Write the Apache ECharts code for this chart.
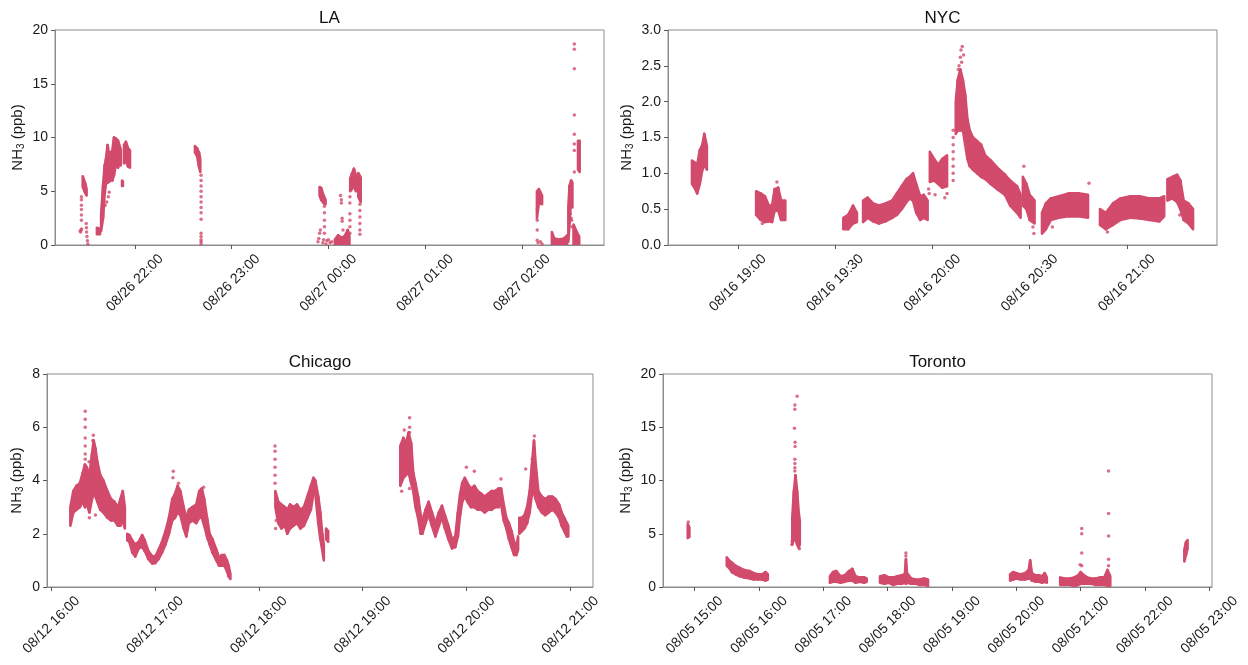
<!DOCTYPE html>
<html><head><meta charset="utf-8">
<script src="https://cdn.jsdelivr.net/npm/echarts@6/dist/echarts.min.js"></script>
<style>html,body{margin:0;padding:0;background:#fff}#c{width:1248px;height:665px}</style>
</head><body><div id="c"></div>
<script>
// ---------- DATA (time = minutes after midnight of the first date; value = NH3 ppb) ----------
// Runs: dense stretches of measurements, each entry [time, lowest value, highest value]
// Dots: individual readings [time, value]
const panelTitles = ['LA', 'NYC', 'Chicago', 'Toronto'];
const panelDates = [[8, 26], [8, 16], [8, 12], [8, 5]];

const laTicks = [1320, 1380, 1440, 1500, 1560];
const nycTicks = [1140, 1170, 1200, 1230, 1260];
const chiTicks = [960, 1020, 1080, 1140, 1200, 1260];
const torTicks = [900, 960, 1020, 1080, 1140, 1200, 1260, 1320, 1380];

const laRange = [1270.4, 1610.9];
const nycRange = [1118.4, 1287.8];
const chiRange = [957.5, 1273.1];
const torRange = [870.4, 1382.5];

const laRuns = [
  [[1287.6,5.4,6.4],[1289.0,4.9,5.8],[1290.0,4.6,5.2]],
  [[1296.4,1.0,1.6],[1298.3,1.0,1.5]],
  [[1299.0,1.3,2.8],[1300.2,2.5,5.5],[1301.2,4.8,7.4],[1302.0,5.7,8.0],[1303.0,5.8,9.3],[1304.0,5.9,8.4],[1305.0,6.0,8.6],[1306.0,6.0,8.8],[1307.0,6.5,10.0],[1308.2,7.5,9.9],[1309.5,7.2,9.7],[1310.5,7.8,9.2],[1311.2,7.4,8.9]],
  [[1312.0,5.5,6.0],[1312.5,5.5,5.9]],
  [[1313.2,7.6,9.3],[1314.4,7.8,9.6],[1315.7,7.3,9.0],[1316.9,7.2,8.8]],
  [[1357.2,8.6,9.2],[1358.5,8.3,9.0],[1359.7,7.3,8.6],[1360.5,6.8,8.0]],
  [[1434.5,4.6,5.4],[1435.5,4.2,5.3],[1437.0,3.9,4.6],[1438.2,3.8,4.2]],
  [[1444.0,0.0,0.5],[1446.0,0.0,0.9],[1448.0,0.0,0.7],[1450.0,0.0,0.8],[1452.0,0.0,1.4],[1453.0,0.0,0.8]],
  [[1453.5,5.0,6.2],[1454.5,5.2,6.6],[1455.8,5.5,7.1],[1457.0,5.0,6.5]],
  [[1458.5,4.5,6.7],[1460.0,4.0,6.3]],
  [[1569.3,2.5,5.0],[1570.5,3.9,5.2],[1572.5,3.8,4.6]],
  [[1578.6,0.0,1.2],[1580.0,0.0,0.6],[1583.0,0.0,0.5],[1586.0,0.0,0.6],[1588.0,0.0,0.9]],
  [[1588.8,0.3,3.5],[1589.5,2.0,5.5],[1590.5,4.3,6.0],[1591.3,3.5,5.8]],
  [[1592.0,0.0,1.9],[1594.0,0.0,1.2],[1595.5,0.0,0.8]],
  [[1594.8,7.0,9.7],[1595.8,6.8,9.7]]
];
const laDots = [
  [1286.0,1.3],[1286.3,1.2],[1286.6,1.4],[1286.9,1.5],[1286.8,2.3],[1286.8,2.8],[1286.8,3.3],[1286.8,3.7],[1286.8,4.2],[1286.8,4.5],
  [1289.8,2.0],[1289.9,1.6],[1290.0,1.2],[1290.2,0.8],[1290.5,0.4],[1290.8,0.1],
  [1301.5,3.7],[1302.5,4.0],[1303.5,4.5],[1304.0,4.9],
  [1361.0,6.5],[1361.0,6.0],[1361.0,5.5],[1361.0,5.0],[1361.0,4.5],[1361.0,4.0],[1361.0,3.5],[1361.0,3.0],[1361.0,2.4],[1361.0,1.1],[1361.0,0.8],[1361.0,0.5],[1361.0,0.3],[1361.0,0.1],
  [1437.5,3.6],[1437.5,3.0],[1437.5,2.3],[1437.5,1.7],[1437.5,1.1],
  [1433.5,0.3],[1434.0,0.6],[1434.5,1.1],[1435.0,1.4],[1436.5,0.2],[1437.0,0.5],[1438.5,0.1],[1439.0,0.4],[1440.0,0.5],[1441.0,0.2],[1442.0,0.3],
  [1447.5,4.6],[1448.0,4.2],[1448.0,3.9],[1448.5,2.5],[1448.5,2.2],[1449.0,1.4],
  [1453.3,4.5],[1453.3,3.9],[1453.3,2.9],[1453.3,2.3],[1453.3,1.7],[1453.3,1.1],
  [1459.5,3.8],[1459.5,3.2],[1459.5,2.6],[1459.5,2.0],[1459.5,1.4],[1459.5,1.0],
  [1569.5,3.3],[1569.5,2.3],[1569.5,1.4],[1569.5,0.45],[1570.0,0.2],[1571.5,0.3],[1572.5,0.1],
  [1589.5,3.6],[1590.0,2.9],[1590.5,2.5],[1590.8,2.3],[1591.0,1.7],
  [1592.5,18.7],[1592.5,18.2],[1592.5,16.4],[1592.5,12.1],[1592.5,10.3],[1592.5,9.4],[1592.5,8.8],[1592.5,6.8]
];

const nycRuns = [
  [[1125.8,0.85,1.18],[1126.6,0.80,1.15],[1127.4,0.72,1.12],[1128.2,0.85,1.32],[1129.0,1.05,1.40],[1129.6,1.12,1.55],[1130.4,1.05,1.38]],
  [[1145.6,0.42,0.75],[1147.0,0.35,0.72],[1148.3,0.32,0.68],[1149.5,0.33,0.55],[1150.5,0.32,0.55],[1151.3,0.48,0.78],[1152.4,0.48,0.80],[1153.3,0.35,0.62],[1154.6,0.35,0.62]],
  [[1172.5,0.22,0.38],[1174.0,0.22,0.42],[1175.5,0.30,0.55],[1176.7,0.32,0.45]],
  [[1178.6,0.32,0.62],[1180.0,0.38,0.66],[1181.7,0.33,0.58],[1183.5,0.30,0.55],[1185.5,0.33,0.58],[1187.6,0.38,0.62],[1189.0,0.42,0.72],[1190.5,0.50,0.82],[1192.0,0.60,0.92],[1193.0,0.65,0.95],[1194.0,0.62,1.0],[1195.0,0.45,0.85],[1196.2,0.35,0.68],[1197.3,0.38,0.70],[1198.5,0.35,0.62]],
  [[1199.2,0.88,1.30],[1200.5,0.90,1.20],[1201.8,0.85,1.12],[1203.0,0.80,1.20],[1204.5,0.82,1.25]],
  [[1207.2,1.55,2.0],[1207.8,1.6,2.3],[1208.6,1.6,2.45],[1209.4,1.6,2.3],[1210.1,1.4,2.1],[1210.8,1.2,1.75],[1211.5,1.1,1.6],[1212.5,1.05,1.5],[1213.8,1.0,1.45],[1215.0,0.95,1.4],[1216.3,0.92,1.25],[1218.0,0.85,1.18],[1220.0,0.78,1.08],[1222.4,0.70,0.98],[1224.0,0.55,0.90],[1226.1,0.45,0.82],[1227.2,0.38,0.70]],
  [[1227.9,0.55,0.95],[1229.0,0.5,0.85],[1230.0,0.35,0.70],[1231.5,0.30,0.62]],
  [[1233.8,0.16,0.45],[1235.0,0.22,0.58],[1236.5,0.35,0.65],[1239.0,0.38,0.68],[1242.0,0.40,0.72],[1245.0,0.40,0.72],[1248.0,0.38,0.70]],
  [[1251.7,0.28,0.50],[1253.5,0.22,0.45],[1255.7,0.28,0.58],[1258.0,0.35,0.65],[1261.0,0.38,0.68],[1264.0,0.37,0.68],[1267.0,0.35,0.65],[1270.0,0.33,0.65],[1271.5,0.40,0.68]],
  [[1272.5,0.62,0.92],[1274.0,0.65,0.95],[1275.5,0.60,0.98],[1276.5,0.50,0.90],[1277.5,0.35,0.62],[1279.0,0.30,0.58],[1280.4,0.22,0.50]]
];
const nycDots = [
  [1152.0,0.88],[1147.5,0.30],
  [1198.8,0.78],[1199.0,0.72],[1200.8,0.70],[1203.8,0.66],[1204.5,0.72],
  [1206.4,1.6],[1206.4,1.5],[1206.4,1.4],[1206.4,1.3],[1206.4,1.2],[1206.4,1.1],[1206.4,1.0],[1206.4,0.9],
  [1208.8,2.72],[1209.2,2.77],[1208.6,2.62],[1209.0,2.55],[1208.2,2.5],[1209.6,2.65],[1208.0,2.45],
  [1228.2,1.1],[1231.3,0.16],[1231.0,0.25],
  [1248.3,0.86],[1237.0,0.25],[1235.8,0.3],
  [1254.0,0.18],[1276.3,0.42]
];

const chiRuns = [
  [[971.0,2.3,3.0],[972.7,2.8,3.6],[974.5,2.9,3.8],[976.5,3.0,3.9],[978.2,3.2,4.3],[979.4,3.0,4.6],[980.5,3.1,4.5],[982.0,2.8,4.2],[983.5,3.3,5.0],[984.5,3.6,5.5],[985.5,3.4,5.2],[986.6,3.2,4.7],[988.3,2.9,4.2],[990.1,2.8,4.0],[992.4,2.6,3.6],[994.5,2.5,3.3],[996.5,2.5,3.2],[998.5,2.3,3.0],[999.9,2.3,3.3],[1001.3,2.5,3.6],[1002.5,2.2,3.0]],
  [[1003.9,1.75,2.0],[1005.1,1.7,1.95],[1006.8,1.3,1.75],[1008.5,1.15,1.6],[1010.5,1.45,1.7],[1012.5,1.5,1.95],[1014.0,1.35,1.75],[1016.1,1.05,1.35],[1018.4,0.88,1.15],[1020.1,0.9,1.15],[1022.0,1.05,1.4],[1024.0,1.3,1.7],[1026.0,1.6,2.1],[1028.0,2.0,2.6],[1029.9,2.5,3.3],[1031.5,2.6,3.5],[1033.0,2.8,3.8],[1034.6,2.7,3.6],[1036.5,2.2,3.0],[1038.0,1.9,2.6],[1039.5,2.4,2.9],[1041.5,2.5,3.0],[1043.8,2.4,3.1],[1045.5,2.6,3.6],[1047.0,2.6,3.7],[1048.4,2.3,3.3],[1050.0,1.9,2.6],[1051.5,1.6,2.0],[1053.1,1.3,1.8],[1055.4,1.0,1.4],[1057.0,0.8,1.1],[1058.5,0.8,1.2],[1060.0,0.8,1.2],[1061.5,0.6,1.0],[1062.5,0.4,0.8],[1063.5,0.3,0.5]],
  [[1089.5,3.0,3.6],[1091.2,2.4,3.2],[1093.0,2.2,3.1],[1095.0,2.3,3.0],[1096.4,2.0,2.9],[1098.0,2.2,3.1],[1099.9,2.3,3.0],[1102.0,2.4,3.1],[1104.0,2.2,2.9],[1106.0,2.3,3.0],[1108.0,2.6,3.4],[1110.0,2.9,3.8],[1111.5,3.5,4.1],[1112.6,3.5,4.0],[1114.3,2.4,3.4],[1115.5,1.8,2.8],[1116.6,1.4,2.0],[1117.5,1.0,1.6]],
  [[1118.8,1.8,2.2],[1120.0,1.7,2.1]],
  [[1161.7,3.8,5.3],[1163.5,4.1,5.6],[1165.0,4.2,5.4],[1166.5,4.3,5.8],[1168.0,3.9,5.4],[1169.2,3.6,4.3],[1170.5,3.0,3.9],[1172.0,2.6,3.4],[1173.5,2.0,2.7],[1174.5,2.0,2.5],[1176.3,2.4,2.9],[1178.1,2.7,3.2],[1180.0,2.3,2.8],[1182.0,1.9,2.4],[1184.0,2.3,2.8],[1185.8,2.6,3.05],[1187.5,2.2,2.7],[1189.5,1.8,2.3],[1191.6,1.45,1.8],[1193.5,1.5,1.9],[1195.0,1.9,2.8],[1196.3,2.7,3.5],[1197.5,3.2,3.9],[1199.0,3.4,4.1],[1200.5,3.2,3.9],[1202.5,3.0,3.7],[1204.5,3.0,3.8],[1206.5,2.9,3.6],[1208.5,2.9,3.5],[1210.5,2.8,3.4],[1212.5,2.9,3.5],[1214.5,2.9,3.6],[1216.5,3.0,3.6],[1218.5,3.0,3.7],[1220.0,3.1,3.7],[1221.5,2.5,3.1],[1223.0,2.2,2.6],[1224.5,1.8,2.4],[1226.0,1.5,2.1],[1227.5,1.2,1.7],[1228.8,1.2,1.5],[1229.8,1.4,1.9]],
  [[1230.5,2.0,2.6],[1232.0,2.1,2.6],[1233.5,2.2,2.7],[1235.0,2.4,3.0],[1236.5,2.8,3.6],[1237.8,3.5,4.6],[1239.0,3.5,5.5],[1240.0,3.3,4.6],[1241.5,3.0,3.6],[1243.5,2.8,3.4],[1245.5,2.7,3.3],[1247.5,2.8,3.4],[1249.5,2.9,3.4],[1251.5,2.8,3.3],[1253.5,2.6,3.1],[1255.0,2.3,2.8],[1256.5,2.1,2.6],[1258.0,1.9,2.4],[1258.8,1.9,2.3]]
];
const chiDots = [
  [979.6,6.6],[979.6,6.3],[979.6,6.0],[979.6,5.6],[979.6,5.3],[979.6,5.0],[979.6,4.8],[984.3,5.7],[984.0,5.5],[982.0,2.6],[985.5,2.7],[981.8,4.7],
  [1030.5,4.35],[1030.3,4.1],[1033.5,3.9],[1048.0,3.75],[1050.3,2.0],[1050.5,1.8],
  [1089.3,5.3],[1089.3,5.1],[1089.3,4.8],[1089.3,4.5],[1089.3,4.2],[1089.3,3.9],[1089.6,2.2],[1090.0,2.5],
  [1167.1,6.36],[1167.1,6.0],[1167.1,5.8],[1164.0,5.9],[1162.5,3.6],[1167.0,3.7],
  [1199.9,4.5],[1204.5,4.35],[1219.9,4.06],
  [1239.2,5.67],[1238.8,5.2],[1234.2,4.43],[1238.0,4.8]
];

const torRuns = [
  [[893.5,4.6,5.9],[895.0,4.7,5.6]],
  [[929.9,2.0,2.8],[932.0,1.8,2.5],[934.6,1.4,2.3],[938.0,1.2,2.0],[942.0,1.0,1.8],[946.0,0.9,1.6],[951.4,0.8,1.5],[955.0,0.7,1.3],[959.0,0.7,1.2],[963.0,0.7,1.2],[966.0,0.6,1.4],[968.2,0.7,1.2]],
  [[991.0,4.0,6.5],[992.5,4.5,9.0],[994.0,4.5,10.5],[995.5,4.0,9.0],[997.0,3.7,7.0],[998.0,4.0,6.2]],
  [[1026.1,0.4,1.0],[1029.0,0.5,1.4],[1032.0,0.5,1.5],[1036.0,0.4,1.0],[1040.0,0.5,1.1],[1044.0,0.6,1.5],[1047.0,0.6,1.7],[1050.0,0.4,1.0],[1054.0,0.5,0.9],[1058.0,0.4,0.9],[1060.4,0.5,0.8]],
  [[1072.8,0.4,1.0],[1077.0,0.3,1.1],[1081.0,0.4,0.9],[1085.0,0.2,0.9],[1089.0,0.3,1.0],[1093.0,0.3,1.1],[1096.0,0.4,1.2],[1097.0,0.3,2.6],[1098.0,0.4,1.3],[1102.0,0.3,0.8],[1106.0,0.3,0.7],[1110.0,0.2,0.7],[1114.0,0.2,0.8],[1117.6,0.1,0.7]],
  [[1194.2,0.6,1.2],[1197.0,0.7,1.4],[1200.0,0.8,1.3],[1204.0,0.7,1.2],[1208.0,0.7,1.3],[1211.5,0.8,1.6],[1212.9,0.8,2.5],[1214.5,0.6,1.3],[1218.0,0.5,1.1],[1221.0,0.5,1.1],[1224.0,0.4,1.0],[1226.5,0.5,1.3],[1228.4,0.4,0.9]],
  [[1240.9,0.2,0.9],[1245.0,0.2,0.8],[1250.0,0.2,0.8],[1254.0,0.1,0.9],[1257.7,0.2,1.1],[1260.0,0.3,1.4],[1262.0,0.3,1.2],[1266.0,0.3,0.9],[1270.0,0.3,0.8],[1274.0,0.2,0.8],[1278.0,0.2,0.9],[1282.0,0.2,0.9],[1285.0,0.1,1.6],[1287.6,0.1,1.0]],
  [[1356.7,2.4,3.5],[1358.2,3.0,4.2],[1359.7,3.6,4.4]]
];
const torDots = [
  [894.0,6.1],
  [995.5,17.9],[993.4,17.1],[993.4,16.7],[993.0,14.9],[993.6,13.6],[993.6,13.2],[993.4,12.0],[993.4,11.6],[993.4,11.2],[993.4,10.9],[991.0,4.3],[990.6,4.0],[997.6,3.6],
  [1097.0,3.2],[1097.0,2.9],
  [1261.0,5.5],[1261.0,5.0],[1261.0,3.2],[1261.0,2.0],[1259.5,2.1],
  [1286.0,10.9],[1286.0,6.9],[1286.0,4.8],[1286.0,2.6],[1286.0,2.0]
];

const yRanges = [[0, 20, 5], [0, 3, 0.5], [0, 8, 2], [0, 20, 5]];

// ---------- CHART ----------
const COLOR = '#d24b6c';
const FONT = 'Liberation Sans, Arial, sans-serif';
const panels = [
  {runs: laRuns, dots: laDots, ticks: laTicks, range: laRange},
  {runs: nycRuns, dots: nycDots, ticks: nycTicks, range: nycRange},
  {runs: chiRuns, dots: chiDots, ticks: chiTicks, range: chiRange},
  {runs: torRuns, dots: torDots, ticks: torTicks, range: torRange}
];
const grids = [
  {left: 55, top: 30, width: 549, height: 215},
  {left: 668, top: 30, width: 549, height: 215},
  {left: 47, top: 374, width: 546, height: 213},
  {left: 663, top: 374, width: 549, height: 213}
];
const nameGaps = [28, 32, 21, 28];
const pad = n => String(n).padStart(2, '0');
function fmt(i) {
  const [m, d] = panelDates[i];
  return t => {
    const day = d + Math.floor(t / 1440);
    const mins = Math.round(t - Math.floor(t / 1440) * 1440);
    return pad(m) + '/' + pad(day) + ' ' + pad(Math.floor(mins / 60)) + ':' + pad(mins % 60);
  };
}
function trapezoids(runs) {
  const out = [];
  runs.forEach(r => {
    for (let k = 0; k + 1 < r.length; k++) out.push([r[k][0], r[k][1], r[k][2], r[k + 1][0], r[k + 1][1], r[k + 1][2]]);
  });
  return out;
}
function renderItem(params, api) {
  const a = api.coord([api.value(0), api.value(2)]);
  const b = api.coord([api.value(3), api.value(5)]);
  const c = api.coord([api.value(3), api.value(4)]);
  const d = api.coord([api.value(0), api.value(1)]);
  return {type: 'polygon', shape: {points: [a, b, c, d]},
    style: {fill: COLOR, stroke: COLOR, lineWidth: 2.6, lineJoin: 'round'}};
}

const option = {
  animation: false,
  backgroundColor: '#fff',
  grid: grids.map(g => Object.assign({show: true, borderColor: '#8c8c8c', borderWidth: 1, backgroundColor: 'transparent'}, g)),
  xAxis: panels.map((p, i) => ({
    type: 'value', gridIndex: i, min: p.range[0], max: p.range[1],
    axisLine: {show: true, onZero: false, lineStyle: {color: '#8c8c8c'}},
    axisTick: {show: true, customValues: p.ticks, length: 4, lineStyle: {color: '#555'}},
    axisLabel: {customValues: p.ticks, rotate: 45, align: 'center', verticalAlign: 'middle', margin: 38,
      fontSize: 14, color: '#1a1a1a', fontFamily: FONT, formatter: fmt(i)},
    splitLine: {show: false}
  })),
  yAxis: yRanges.map((r, i) => ({
    type: 'value', gridIndex: i, min: r[0], max: r[1], interval: r[2],
    axisLine: {show: true, lineStyle: {color: '#8c8c8c'}},
    axisTick: {show: true, length: 4, lineStyle: {color: '#555'}},
    axisLabel: {margin: 7, fontSize: 14, color: '#1a1a1a', fontFamily: FONT,
      formatter: v => r[2] < 1 ? v.toFixed(1) : String(v)},
    splitLine: {show: false},
    name: '{a|NH}{s|3}{a| (ppb)}', nameLocation: 'middle', nameGap: nameGaps[i],
    nameTextStyle: {fontFamily: FONT, color: '#1a1a1a', fontSize: 15,
      rich: {a: {fontSize: 15, fontFamily: FONT, color: '#1a1a1a', lineHeight: 18},
             s: {fontSize: 10, fontFamily: FONT, color: '#1a1a1a', lineHeight: 18, padding: [7, 0, 0, 0]}}}
  })),
  graphic: panelTitles.map((t, i) => ({
    type: 'text', x: grids[i].left + grids[i].width / 2, y: grids[i].top - 12,
    style: {text: t, fontSize: 17, fontFamily: FONT, fill: '#111', textAlign: 'center', textVerticalAlign: 'middle'}
  })),
  series: []
};
panels.forEach((p, i) => {
  option.series.push({
    type: 'custom', xAxisIndex: i, yAxisIndex: i, renderItem: renderItem, clip: true,
    dimensions: ['t0', 'lo0', 'hi0', 't1', 'lo1', 'hi1'],
    encode: {x: [0, 3], y: [1, 2, 4, 5]},
    data: trapezoids(p.runs), silent: true
  });
  option.series.push({
    type: 'scatter', xAxisIndex: i, yAxisIndex: i, symbolSize: 3.5, clip: true,
    itemStyle: {color: COLOR}, data: p.dots, silent: true
  });
});
const chart = echarts.init(document.getElementById('c'), null, {renderer: 'canvas'});
chart.setOption(option);
</script></body></html>
